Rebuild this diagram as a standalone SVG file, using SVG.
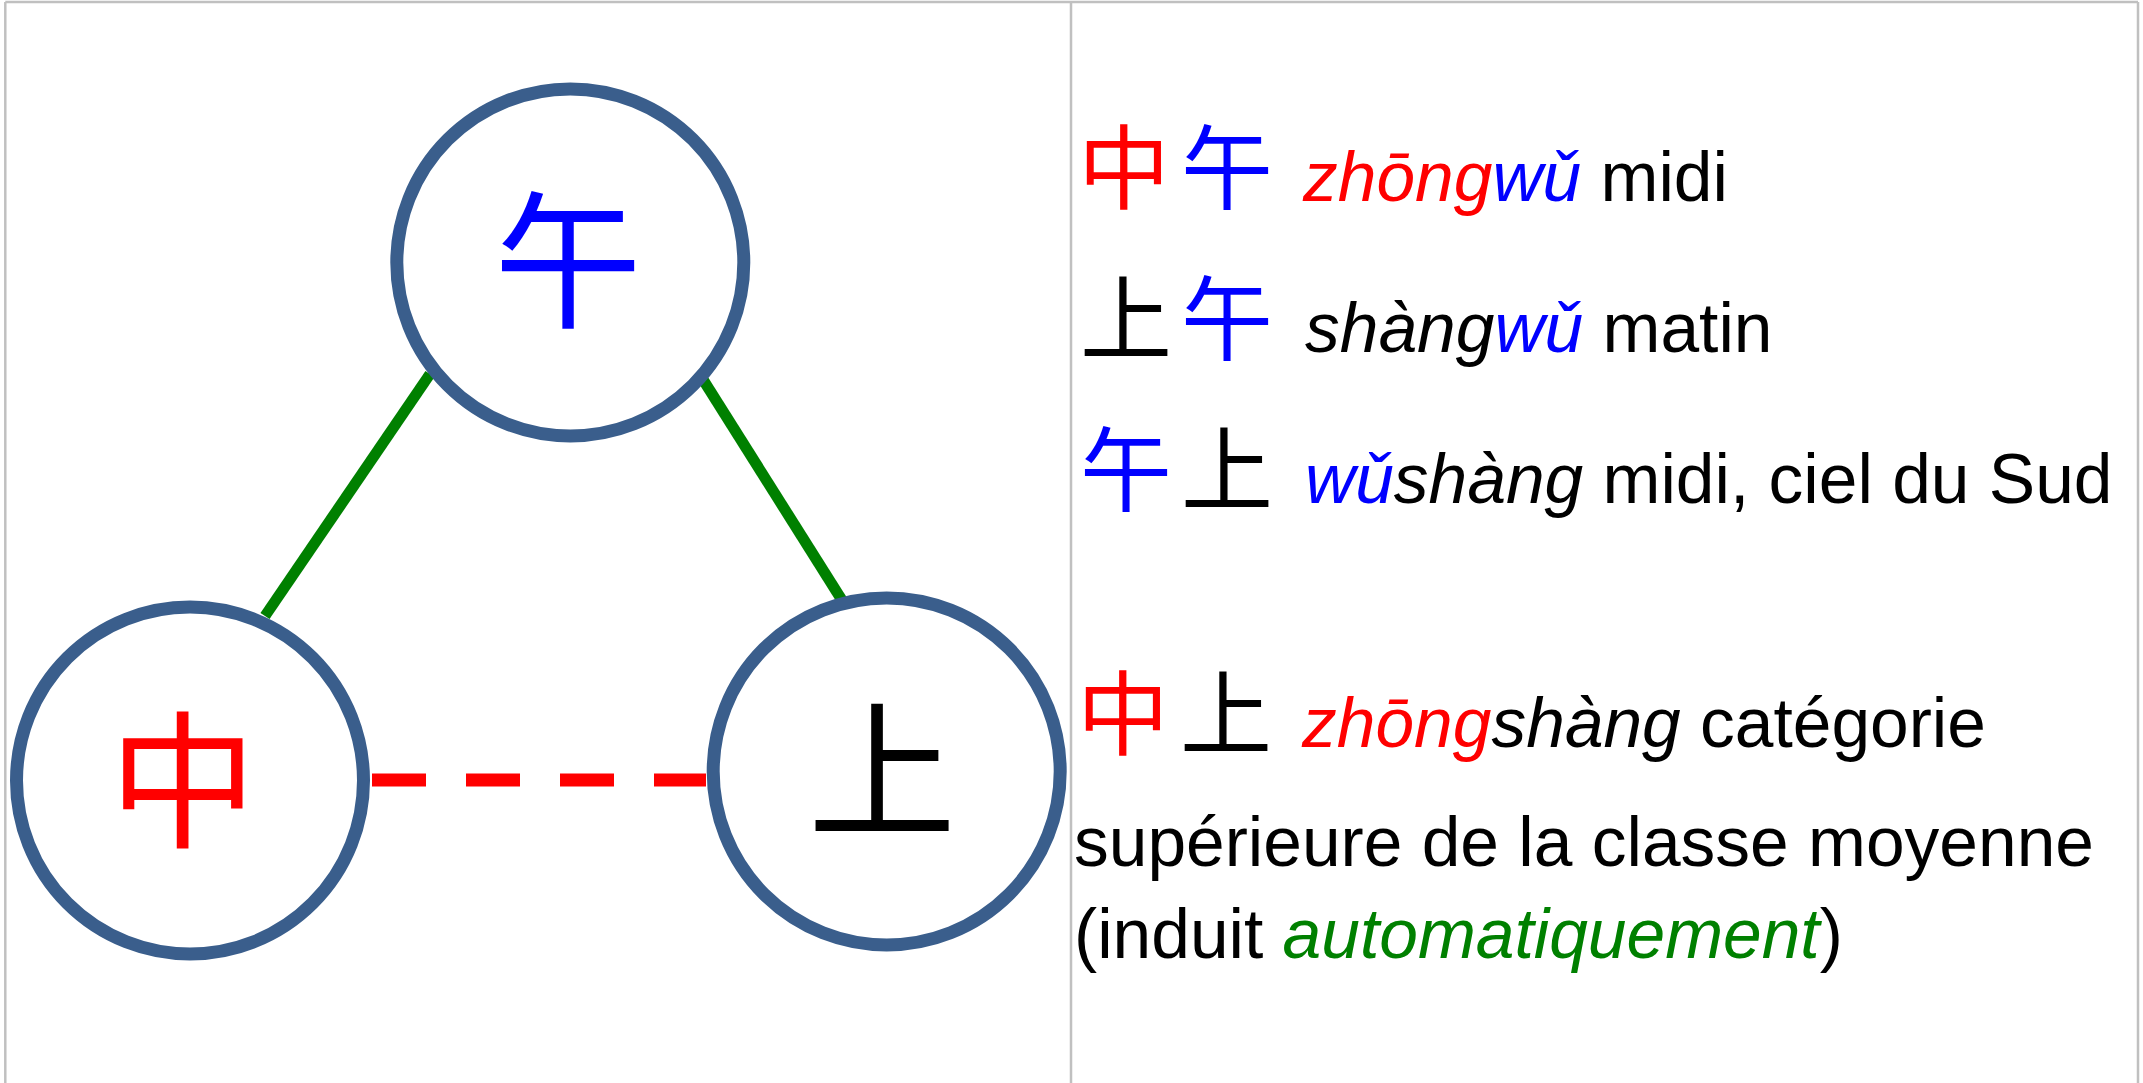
<svg xmlns="http://www.w3.org/2000/svg" width="2143" height="1083" viewBox="0 0 2143 1083">
<style>
.grid{stroke:#C0C0C0;stroke-width:2.5;fill:none}
.node{fill:#FFFFFF;stroke:#3A5E8C;stroke-width:13}
.solid{stroke:#008000;stroke-width:11;fill:none}
.dash{stroke:#FF0000;stroke-width:13;stroke-dasharray:54 40;fill:none}
.cjk{font-family:"Noto Sans CJK SC","Noto Sans CJK TC",sans-serif;text-anchor:middle}
.big{font-size:148px}
.small{font-size:92px}
.lat{font-family:"Liberation Sans",Arial,sans-serif;font-size:69.5px;fill:#000000}
.it{font-style:italic}
.r{fill:#FF0000}
.b{fill:#0000FF}
.k{fill:#000000}
.g{fill:#008000}
</style>
<rect x="0" y="0" width="2143" height="1083" fill="#FFFFFF"/>
<g id="table">
<line class="grid" x1="5.3" y1="2" x2="2138" y2="2"/>
<line class="grid" x1="5.3" y1="2" x2="5.3" y2="1083"/>
<line class="grid" x1="1071" y1="2" x2="1071" y2="1083"/>
<line class="grid" x1="2138" y1="2" x2="2138" y2="1083"/>
</g>
<g id="connectors">
<line class="solid" x1="430" y1="374" x2="265" y2="616"/>
<line class="solid" x1="702" y1="378" x2="845" y2="605"/>
<line class="dash" x1="372" y1="780" x2="706" y2="780"/>
</g>
<g id="node-wu">
<circle class="node" cx="570.3" cy="262.4" r="173.5"/>
<text class="cjk big b" x="568" y="316">午</text>
</g>
<g id="node-zhong">
<circle class="node" cx="190" cy="780.5" r="173.5"/>
<text class="cjk big r" x="183" y="836">中</text>
</g>
<g id="node-shang">
<circle class="node" cx="886.7" cy="771.4" r="173.5"/>
<text class="cjk big k" x="882" y="826">上</text>
</g>
<g id="legend">
<text class="cjk small r" x="1124" y="202">中</text>
<text class="cjk small b" x="1227" y="202">午</text>
<text class="lat" x="1303" y="201"><tspan class="it r">zhōng</tspan><tspan class="it b">wǔ</tspan><tspan class="k"> midi</tspan></text>

<text class="cjk small k" x="1126" y="353">上</text>
<text class="cjk small b" x="1227" y="353">午</text>
<text class="lat" x="1305" y="352"><tspan class="it k">shàng</tspan><tspan class="it b">wǔ</tspan><tspan class="k"> matin</tspan></text>

<text class="cjk small b" x="1126" y="504">午</text>
<text class="cjk small k" x="1227" y="504">上</text>
<text class="lat" x="1305" y="503"><tspan class="it b">wǔ</tspan><tspan class="it k">shàng</tspan><tspan class="k"> midi, ciel du Sud</tspan></text>

<text class="cjk small r" x="1123" y="748">中</text>
<text class="cjk small k" x="1226" y="748">上</text>
<text class="lat" x="1302" y="747"><tspan class="it r">zhōng</tspan><tspan class="it k">shàng</tspan><tspan class="k"> catégorie</tspan></text>

<text class="lat" x="1074" y="866">supérieure de la classe moyenne</text>
<text class="lat" x="1074" y="958">(induit <tspan class="it g">automatiquement</tspan>)</text>
</g>
</svg>
